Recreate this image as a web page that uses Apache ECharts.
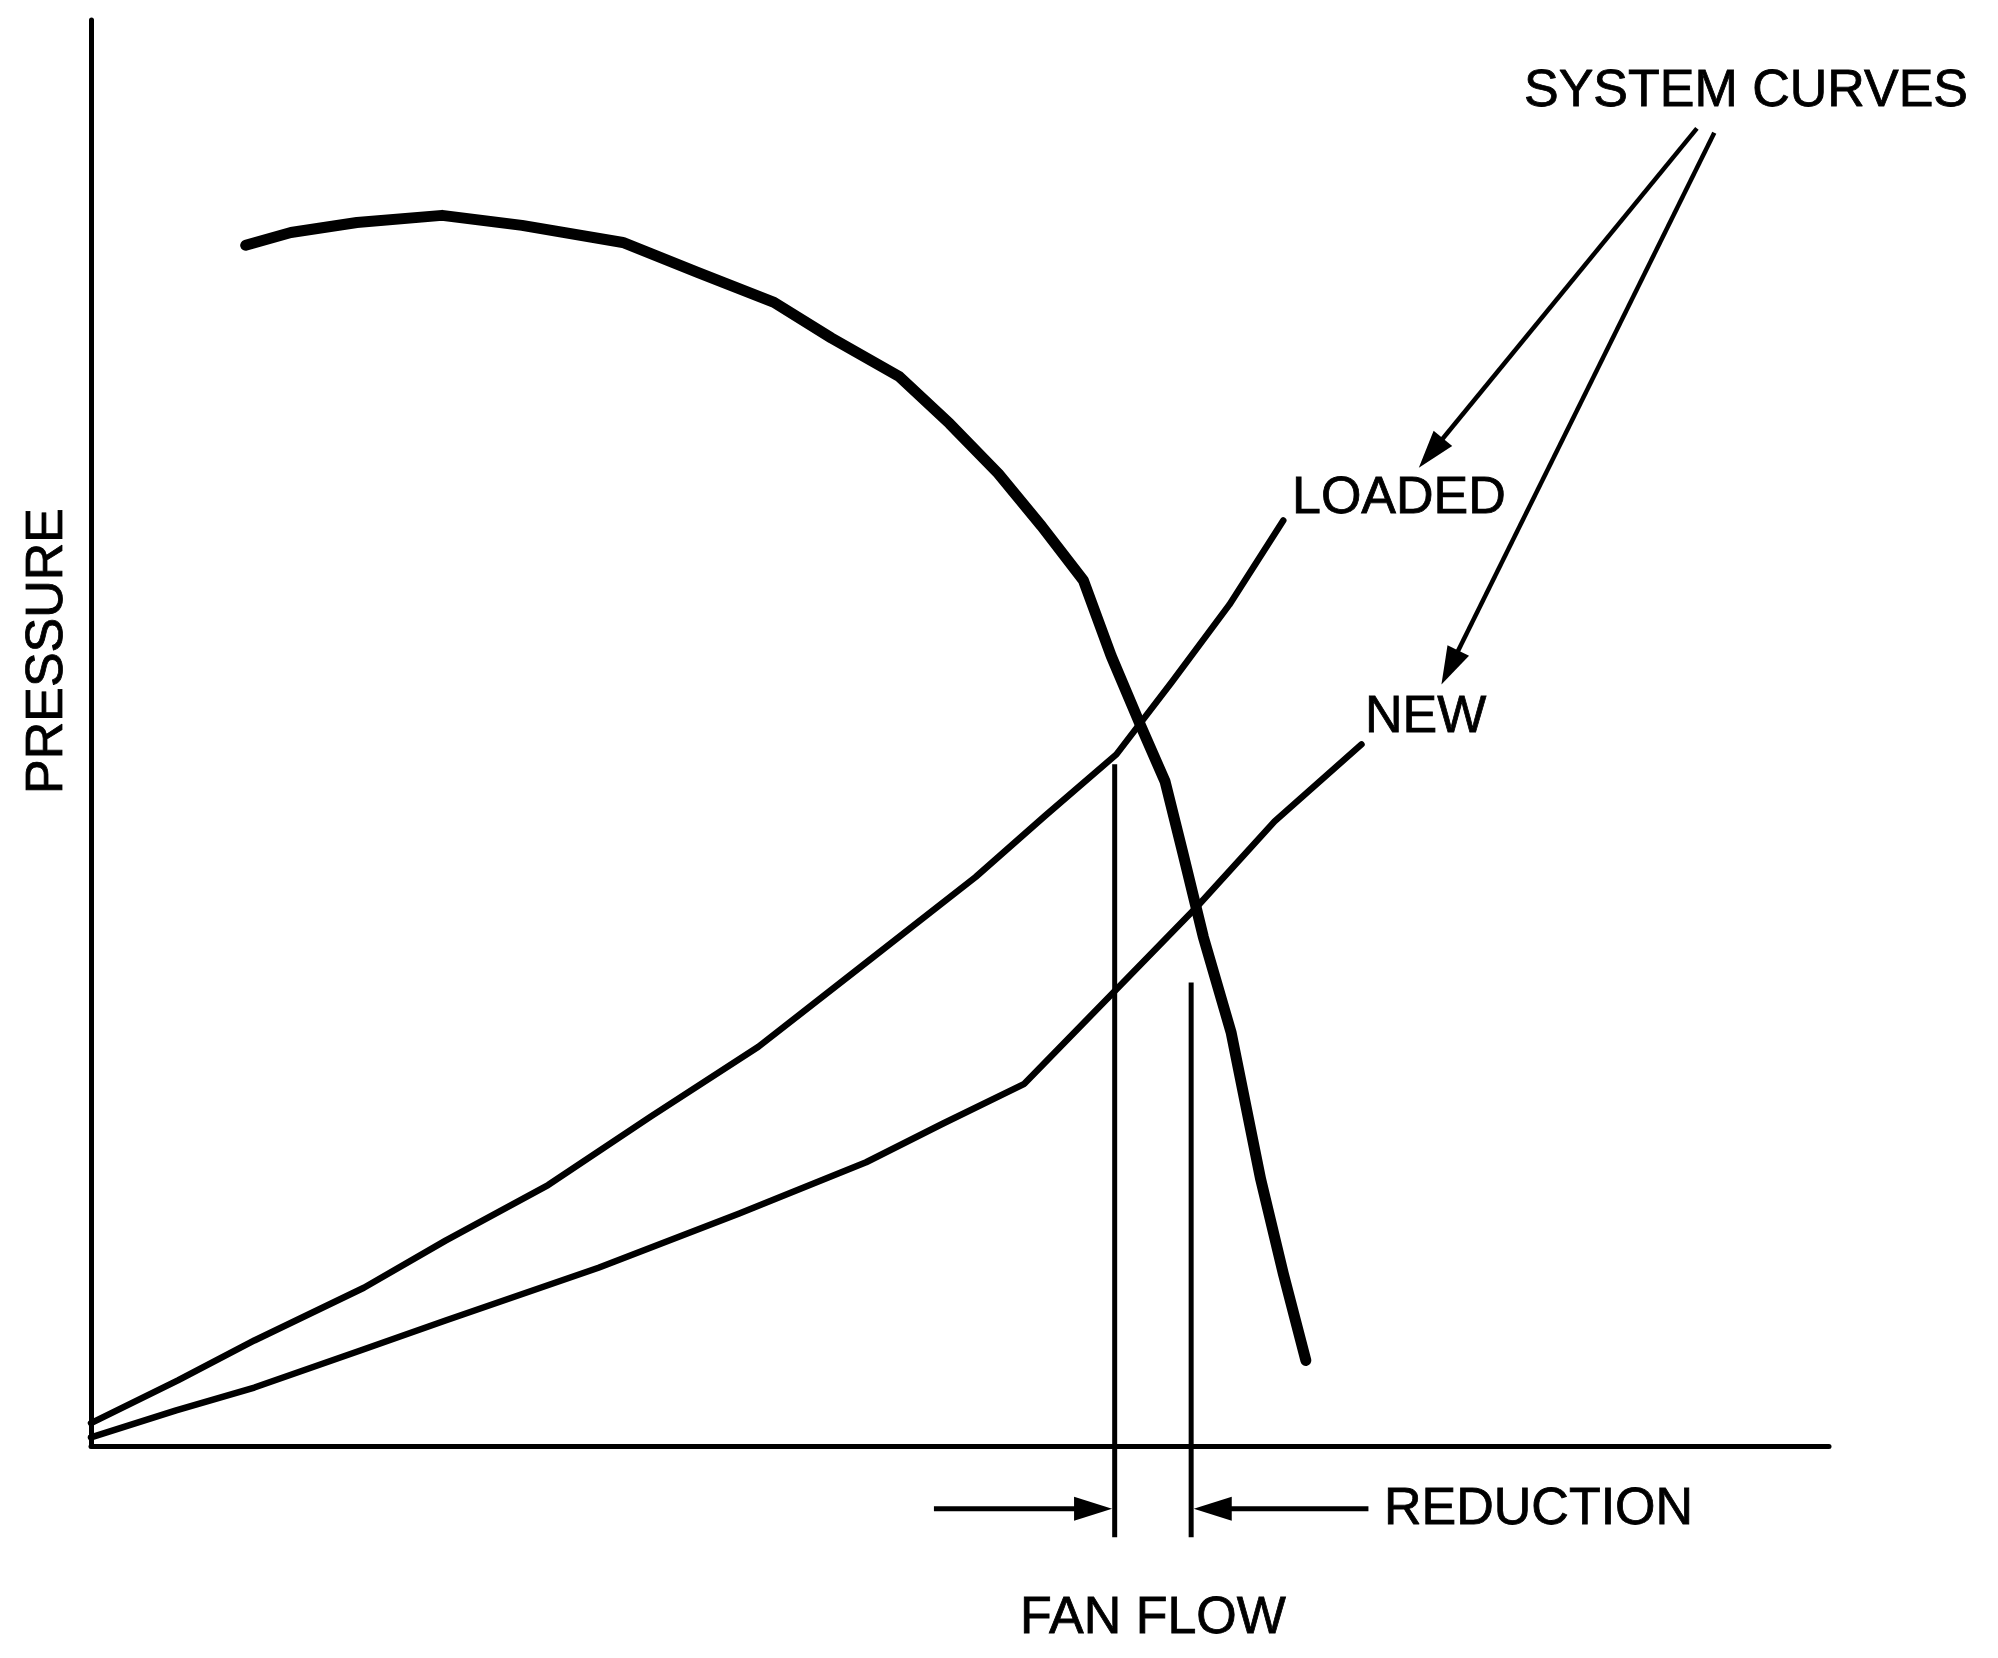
<!DOCTYPE html>
<html>
<head>
<meta charset="utf-8">
<script src="https://cdn.jsdelivr.net/npm/echarts@6/dist/echarts.min.js"></script>
<style>
html,body{margin:0;padding:0;background:#fff;}
#c{width:1998px;height:1658px;}
</style>
</head>
<body>
<div id="c"></div>
<script>
// Fan curve (flow, pressure) in relative units 0-100
const fanFlow = [8.9, 11.5, 15.3, 20.2, 24.8, 30.6, 34.9, 39.3, 42.6, 46.5, 49.4, 52.2, 54.7, 57.1, 58.7, 60.4, 61.8, 62.8, 64.0, 65.6, 67.3, 68.6, 69.9];
const fanPressure = [84.2, 85.1, 85.8, 86.3, 85.6, 84.4, 82.3, 80.2, 77.7, 75.0, 71.7, 68.2, 64.5, 60.7, 55.4, 50.5, 46.6, 41.7, 35.7, 29.0, 18.7, 12.1, 6.0];

// System curve: LOADED
const loadedFlow = [0, 5.0, 9.4, 15.7, 20.4, 26.3, 32.2, 38.4, 44.6, 50.9, 54.9, 59.0, 62.2, 65.5, 68.6];
const loadedPressure = [1.6, 4.6, 7.4, 11.1, 14.4, 18.3, 23.1, 28.0, 33.9, 39.9, 44.2, 48.5, 53.6, 59.0, 64.9];

// System curve: NEW
const newFlow = [0, 4.9, 9.4, 15.5, 20.4, 29.2, 37.3, 44.6, 49.0, 53.7, 58.5, 63.7, 68.1, 73.1];
const newPressure = [0.6, 2.5, 4.1, 6.7, 8.8, 12.5, 16.3, 19.9, 22.6, 25.4, 31.4, 37.9, 43.8, 49.2];

// Operating-point drop lines (loaded, new)
const opFlow = [58.9, 63.3];
const opTop = [47.8, 32.5];
const opBottom = -6.4;

// Annotation arrows: [fromFlow, fromPressure, toFlow, toPressure]
const reductionArrows = [[48.5, -4.4, 58.75, -4.4], [73.5, -4.4, 63.45, -4.4]];
const systemArrows = [[92.4, 92.4, 76.4, 68.6], [93.4, 92.1, 77.7, 53.4]];

// Texts
const labelSystem = 'SYSTEM CURVES';
const labelLoaded = 'LOADED';
const labelNew = 'NEW';
const labelReduction = 'REDUCTION';
const labelXAxis = 'FAN FLOW';
const labelYAxis = 'PRESSURE';

const zip = (a, b) => a.map((v, i) => [v, b[i]]);
const FONT = '52px "Liberation Sans", Arial, sans-serif';

const chart = echarts.init(document.getElementById('c'), null, {renderer: 'canvas'});

function arrowSeries(name, rows, width) {
  return {
    name: name,
    type: 'custom',
    coordinateSystem: 'cartesian2d',
    clip: false,
    silent: true,
    encode: {x: [0, 2], y: [1, 3]},
    data: rows,
    renderItem: function (params, api) {
      const p1 = api.coord([api.value(0), api.value(1)]);
      const p2 = api.coord([api.value(2), api.value(3)]);
      const dx = p2[0] - p1[0], dy = p2[1] - p1[1];
      const L = Math.hypot(dx, dy);
      const ux = dx / L, uy = dy / L;
      const headLen = 38, headW = 24;
      const bx = p2[0] - ux * headLen, by = p2[1] - uy * headLen;
      const nx = -uy, ny = ux;
      return {
        type: 'group',
        children: [
          {type: 'line', shape: {x1: p1[0], y1: p1[1], x2: bx + ux * 4, y2: by + uy * 4},
           style: {stroke: '#000', lineWidth: width}},
          {type: 'polygon', shape: {points: [[p2[0], p2[1]], [bx + nx * headW / 2, by + ny * headW / 2], [bx - nx * headW / 2, by - ny * headW / 2]]},
           style: {fill: '#000'}}
        ]
      };
    }
  };
}

const axisCommon = {
  type: 'value',
  min: 0,
  max: 100,
  axisLine: {show: true, onZero: false, lineStyle: {color: '#000', width: 5}},
  axisTick: {show: false},
  axisLabel: {show: false},
  splitLine: {show: false}
};

function textEl(x, y, text, align, rotation) {
  return {
    type: 'text', x: x, y: y, rotation: rotation || 0,
    style: {
      text: text, font: FONT, fill: '#000', stroke: '#000', lineWidth: 0.8,
      align: align, verticalAlign: 'middle', textAlign: align, textVerticalAlign: 'middle'
    }
  };
}

const option = {
  backgroundColor: '#fff',
  animation: false,
  grid: {left: 91, right: 169, top: 20, bottom: 212, containLabel: false, outerBoundsMode: 'none'},
  xAxis: Object.assign({}, axisCommon),
  yAxis: Object.assign({}, axisCommon),
  series: [
    {
      name: 'Fan', type: 'line', data: zip(fanFlow, fanPressure), symbol: 'none', smooth: false,
      clip: false, silent: true,
      lineStyle: {color: '#000', width: 11, cap: 'round', join: 'round'}
    },
    {
      name: 'Loaded', type: 'line', data: zip(loadedFlow, loadedPressure), symbol: 'none', smooth: false,
      clip: false, silent: true,
      lineStyle: {color: '#000', width: 6.5, cap: 'round', join: 'round'}
    },
    {
      name: 'New', type: 'line', data: zip(newFlow, newPressure), symbol: 'none', smooth: false,
      clip: false, silent: true,
      lineStyle: {color: '#000', width: 6.5, cap: 'round', join: 'round'}
    },
    {
      name: 'OpLoaded', type: 'line', data: [[opFlow[0], opTop[0]], [opFlow[0], opBottom]], symbol: 'none',
      clip: false, silent: true, lineStyle: {color: '#000', width: 5, cap: 'butt'}
    },
    {
      name: 'OpNew', type: 'line', data: [[opFlow[1], opTop[1]], [opFlow[1], opBottom]], symbol: 'none',
      clip: false, silent: true, lineStyle: {color: '#000', width: 5, cap: 'butt'}
    },
    arrowSeries('ReductionArrows', reductionArrows, 5),
    arrowSeries('SystemArrows', systemArrows, 4.5)
  ],
  graphic: [
    textEl(1524, 92, labelSystem, 'left'),
    textEl(1292, 499, labelLoaded, 'left'),
    textEl(1365, 718, labelNew, 'left'),
    textEl(1384, 1510, labelReduction, 'left'),
    textEl(1153, 1619, labelXAxis, 'center'),
    textEl(48, 651, labelYAxis, 'center', Math.PI / 2)
  ]
};

chart.setOption(option);
</script>
</body>
</html>
